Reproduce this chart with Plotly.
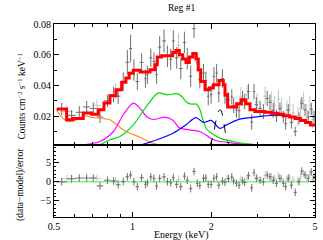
import math
import plotly.graph_objects as go

# ---------------- data ----------------
# model (step histogram): bin edges and values
model_edges = [0.512, 0.559, 0.590, 0.647, 0.697, 0.739, 0.777, 0.819, 0.864, 0.908, 0.943,
               0.971, 1.006, 1.068, 1.166, 1.219, 1.244, 1.293, 1.425, 1.467, 1.511, 1.556,
               1.602, 1.650, 1.700, 1.750, 1.786, 1.824, 1.895, 1.968, 2.039, 2.144, 2.227,
               2.260, 2.314, 2.506, 2.603, 2.713, 2.818, 2.945, 3.217, 3.4, 3.6, 3.8, 4.0,
               4.2, 4.4, 4.6, 4.8, 5.0]
model_vals = [0.0246, 0.0176, 0.0185, 0.0220, 0.0213, 0.0241, 0.0285, 0.0333, 0.0372, 0.0420,
              0.0448, 0.0480, 0.0498, 0.0487, 0.0502, 0.0535, 0.0585, 0.0593, 0.0615, 0.0628,
              0.0600, 0.0572, 0.0550, 0.0585, 0.0608, 0.0572, 0.0502, 0.0426, 0.0372, 0.0383,
              0.0404, 0.0432, 0.0404, 0.0339, 0.0259, 0.0280, 0.0306, 0.0280, 0.0241, 0.0230,
              0.0225, 0.0218, 0.0212, 0.0203, 0.0195, 0.0185, 0.0172, 0.0158, 0.0142]

# model components
orange_e = [0.512, 0.53, 0.567, 0.611, 0.658, 0.697, 0.772, 0.819, 0.871, 0.921, 0.977, 1.068, 1.166, 1.25, 1.37]
orange_v = [0.0241, 0.0200, 0.0165, 0.0176, 0.0202, 0.0191, 0.0185, 0.0176, 0.0143, 0.0111, 0.0089, 0.0062, 0.0030, 0.0015, 0.0007]
magenta_e = [0.647, 0.75, 0.845, 0.921, 1.006, 1.068, 1.13, 1.2, 1.31, 1.36, 1.43, 1.51, 1.65, 1.81, 1.95, 2.04, 2.16, 2.29, 2.57, 3.22]
magenta_v = [0.0013, 0.0035, 0.0100, 0.0209, 0.0285, 0.0252, 0.0198, 0.0178, 0.0192, 0.0190, 0.0172, 0.0125, 0.0111, 0.0100, 0.0067, 0.0046, 0.0035, 0.0030, 0.0020, 0.0012]
green_e = [0.75, 0.819, 0.895, 1.006, 1.13, 1.25, 1.36, 1.48, 1.55, 1.61, 1.68, 1.76, 1.81, 1.86, 1.92, 2.0, 2.16, 2.43, 2.91, 3.1]
green_v = [0.0013, 0.0046, 0.0067, 0.0143, 0.0263, 0.0350, 0.0339, 0.0346, 0.0325, 0.0290, 0.0278, 0.0278, 0.0245, 0.0175, 0.0118, 0.0090, 0.0057, 0.0035, 0.0014, 0.0010]
blue_e = [1.08, 1.24, 1.43, 1.6, 1.75, 1.87, 2.0, 2.16, 2.29, 2.57, 3.08, 3.56, 4.0, 4.5, 5.0]
blue_v = [0.0013, 0.0046, 0.0089, 0.0143, 0.0190, 0.0159, 0.0172, 0.0120, 0.0143, 0.0180, 0.0198, 0.0207, 0.0196, 0.0172, 0.0137]
line_e = [1.95, 2.0, 2.05, 2.1, 2.15, 2.18, 2.22, 2.26, 2.3, 2.35]
line_v = [0.0005, 0.0030, 0.0100, 0.0190, 0.0238, 0.0240, 0.0190, 0.0110, 0.0040, 0.0010]

# observed spectrum (dark)
obs_e = [0.535, 0.584, 0.625, 0.667, 0.707, 0.75, 0.801, 0.846, 0.881, 0.921, 0.955, 0.983,
         1.012, 1.043, 1.083, 1.12, 1.14, 1.175, 1.208, 1.236, 1.27, 1.32, 1.36, 1.40, 1.433,
         1.476, 1.53, 1.58, 1.62, 1.67, 1.72, 1.77, 1.81, 1.87, 1.91, 1.95, 2.0, 2.05, 2.1,
         2.14, 2.21, 2.26, 2.33, 2.40, 2.44, 2.50, 2.56, 2.64, 2.69, 2.78, 2.86, 2.92, 2.98,
         3.08, 3.17, 3.28, 3.36, 3.46, 3.56, 3.67, 3.78, 3.86, 3.95, 4.06, 4.20, 4.34, 4.45,
         4.58, 4.71, 4.84, 4.96]
obs_xerr = [0.023, 0.022, 0.02, 0.021, 0.02, 0.022, 0.024, 0.02, 0.018, 0.018, 0.016, 0.014,
            0.015, 0.016, 0.02, 0.012, 0.012, 0.016, 0.015, 0.015, 0.02, 0.022, 0.02, 0.018, 0.018,
            0.022, 0.025, 0.022, 0.022, 0.025, 0.025, 0.022, 0.025, 0.025, 0.022, 0.022, 0.025, 0.025, 0.022,
            0.03, 0.03, 0.03, 0.035, 0.025, 0.03, 0.03, 0.035, 0.03, 0.04, 0.04, 0.035, 0.03, 0.045,
            0.05, 0.05, 0.045, 0.05, 0.05, 0.05, 0.055, 0.05, 0.045, 0.05, 0.06, 0.06, 0.06, 0.06,
            0.065, 0.065, 0.065, 0.04]
obs_v = [0.0246, 0.0205, 0.0225, 0.0260, 0.0250, 0.0195, 0.0300, 0.0340, 0.0330, 0.0425, 0.0550, 0.0640,
         0.0500, 0.0425, 0.0550, 0.0445, 0.0470, 0.0580, 0.0555, 0.0470, 0.0650, 0.0690, 0.0590, 0.0570, 0.0690,
         0.0580, 0.0510, 0.0680, 0.0575, 0.0460, 0.0770, 0.0550, 0.0440, 0.0480, 0.0430, 0.0330, 0.0340, 0.0460, 0.0480,
         0.0350, 0.0445, 0.0330, 0.0305, 0.0325, 0.0270, 0.0240, 0.0235, 0.0316, 0.0296, 0.0360, 0.0161, 0.0360, 0.0275,
         0.0250, 0.0230, 0.0315, 0.0290, 0.0238, 0.0202, 0.0248, 0.0196, 0.0151, 0.0239, 0.0159, 0.0100, 0.0185, 0.0284,
         0.0240, 0.0194, 0.0246, 0.0194]
obs_err = [0.004, 0.0035, 0.004, 0.004, 0.004, 0.004, 0.004, 0.005, 0.005, 0.006, 0.008, 0.009,
           0.007, 0.0055, 0.006, 0.006, 0.006, 0.006, 0.006, 0.006, 0.007, 0.0075, 0.007, 0.007, 0.007,
           0.007, 0.007, 0.007, 0.007, 0.007, 0.006, 0.006, 0.006, 0.006, 0.006, 0.006, 0.006, 0.006, 0.006,
           0.006, 0.006, 0.005, 0.005, 0.005, 0.005, 0.005, 0.005, 0.005, 0.005, 0.005, 0.005, 0.005, 0.005,
           0.005, 0.005, 0.005, 0.005, 0.005, 0.004, 0.004, 0.004, 0.004, 0.004, 0.004, 0.003, 0.004, 0.004,
           0.004, 0.004, 0.004, 0.004]
obs_res = [0.0, 0.8, 1.0, 1.0, 1.0, -1.1, 0.4, 0.2, -0.8, 0.1, 1.3, 1.8,
           0.0, -1.3, 1.05, -0.7, -0.3, 1.3, 0.9, -1.1, 0.9, 1.3, 0.0, -0.3, 1.1,
           -0.7, -1.3, 1.5, 0.4, -1.8, 2.7, -0.4, -1.0, 0.9, 1.0, -0.7, -0.7, 0.9, 1.3,
           -0.9, 0.2, -0.2, 0.9, 1.3, 0.2, -0.4, -0.9, 0.2, -0.2, 1.6, -1.6, 2.4, 0.9,
           0.4, 0.0, 1.8, 1.3, 0.4, -0.4, 0.9, -0.4, -1.3, 0.9, -0.9, -2.8, 0.0, 2.8,
           1.8, 0.9, 2.6, 1.3]

# second spectrum (light)
obs2_e = [0.56, 0.73, 0.86, 1.5, 2.3, 2.6, 2.75, 3.0, 3.22, 3.4, 3.5, 3.62, 3.72, 3.9, 4.0, 4.12, 4.3, 4.4, 4.52, 4.65, 4.78, 4.9]
obs2_xerr = [0.03, 0.03, 0.025, 0.025, 0.04, 0.04, 0.04, 0.05, 0.05, 0.05, 0.05, 0.05, 0.05, 0.06, 0.05, 0.06, 0.06, 0.05, 0.06, 0.06, 0.06, 0.06]
obs2_v = [0.0230, 0.0270, 0.0360, 0.0660, 0.0310, 0.0330, 0.0340, 0.0290, 0.0330, 0.0300, 0.0270, 0.0310, 0.0260, 0.0240, 0.0270, 0.0220, 0.0200, 0.0250, 0.0300, 0.0220, 0.0270, 0.0180]
obs2_err = [0.004, 0.004, 0.005, 0.008, 0.006, 0.006, 0.006, 0.006, 0.006, 0.006, 0.006, 0.006, 0.006, 0.006, 0.006, 0.006, 0.006, 0.006, 0.006, 0.006, 0.006, 0.006]
obs2_res = [0.8, 0.9, 0.3, 0.6, 0.8, 0.6, 1.0, 1.0, 1.7, 1.3, 0.9, 1.5, 0.8, 0.6, 1.2, 0.5, 0.3, 1.3, 2.2, 0.9, 2.0, 0.8]

title_text = "Reg #1"
xtick_vals = [0.5, 1, 2, 5]
xtick_text = ["0.5", "1", "2", "5"]
xminor_vals = [0.6, 0.7, 0.8, 0.9, 3, 4]
ytop_vals = [0.02, 0.04, 0.06, 0.08]
ytop_text = ["0.02", "0.04", "0.06", "0.08"]
ytop_minor = [0.01, 0.03, 0.05, 0.07]
ybot_vals = [-5, 0, 5]
ybot_text = ["\u22125", "0", "5"]
ybot_minor = [-9, -8, -7, -6, -4, -3, -2, -1, 1, 2, 3, 4, 6, 7, 8, 9]

# ---------------- figure ----------------
FONT = "Liberation Serif"
DARK = "#6e6e6e"
LIGHT = "#c4c4c4"

fig = go.Figure()

def add_points(x, xe, y, ye, color, xa, ya):
    fig.add_trace(go.Scatter(
        x=x, y=y, mode="markers", xaxis=xa, yaxis=ya, showlegend=False,
        marker=dict(size=1, color=color),
        error_x=dict(type="data", array=xe, color=color, thickness=1, width=0),
        error_y=dict(type="data", array=ye, color=color, thickness=1, width=0),
    ))

# top panel data
add_points(obs2_e, obs2_xerr, obs2_v, obs2_err, LIGHT, "x", "y")
add_points(obs_e, obs_xerr, obs_v, obs_err, DARK, "x", "y")

# components
for ex, vy, col, dash in [(orange_e, orange_v, "#ff8c1a", "solid"),
                          (magenta_e, magenta_v, "#ff00ff", "solid"),
                          (green_e, green_v, "#00e000", "solid"),
                          (blue_e, blue_v, "#0000ff", "solid"),
                          (line_e, line_v, "#000000", "dash")]:
    fig.add_trace(go.Scatter(x=ex, y=vy, mode="lines", xaxis="x", yaxis="y", showlegend=False,
                             line=dict(color=col, width=1.2 if dash == "solid" else 1, dash=dash,
                                       shape="spline", smoothing=0.8)))

# model step
fig.add_trace(go.Scatter(x=model_edges, y=model_vals + [model_vals[-1]], mode="lines",
                         xaxis="x", yaxis="y", showlegend=False,
                         line=dict(color="#ff0000", width=3, shape="hv")))

# residual panel
fig.add_trace(go.Scatter(x=[0.5, 5], y=[0, 0], mode="lines", xaxis="x2", yaxis="y2", showlegend=False,
                         line=dict(color="#80f080", width=1.5)))
add_points(obs2_e, obs2_xerr, obs2_res, [1.0] * len(obs2_e), LIGHT, "x2", "y2")
add_points(obs_e, obs_xerr, obs_res, [1.0] * len(obs_e), DARK, "x2", "y2")

xr = [math.log10(0.5), math.log10(5.0005)]
split = 72 / 193

common_axis = dict(showline=True, linecolor="#000000", linewidth=1, mirror="allticks",
                   ticks="inside", ticklen=5, tickcolor="#000000", showgrid=False, zeroline=False,
                   automargin=False,
                   tickfont=dict(family=FONT, size=10, color="#000000"))

fig.update_layout(
    width=323, height=240,
    margin=dict(l=54, r=8, t=24, b=23, autoexpand=False),
    paper_bgcolor="white", plot_bgcolor="white",
    showlegend=False,
    xaxis=dict(type="log", range=xr, domain=[0, 1], anchor="y", tickvals=xtick_vals,
               ticktext=xtick_text, showticklabels=False,
               minor=dict(tickmode="array", tickvals=xminor_vals, ticks="inside", ticklen=3, tickcolor="#000000"),
               **common_axis),
    yaxis=dict(range=[0.0012, 0.08], domain=[split, 1], anchor="x", tickvals=ytop_vals, ticktext=ytop_text,
               minor=dict(tickmode="array", tickvals=ytop_minor, ticks="inside", ticklen=3, tickcolor="#000000"),
               **common_axis),
    xaxis2=dict(type="log", range=xr, domain=[0, 1], anchor="y2", tickvals=xtick_vals,
                ticktext=xtick_text, showticklabels=True,
                minor=dict(tickmode="array", tickvals=xminor_vals, ticks="inside", ticklen=3, tickcolor="#000000"),
                **common_axis),
    yaxis2=dict(range=[-9.3, 9.7], domain=[0, split], anchor="x2", tickvals=ybot_vals, ticktext=ybot_text,
                minor=dict(tickmode="array", tickvals=ybot_minor, ticks="inside", ticklen=2, tickcolor="#000000"),
                **common_axis),
    annotations=[
        dict(text=title_text, xref="paper", yref="paper", x=0.49, y=1 + 16 / 193, showarrow=False,
             xanchor="center", yanchor="middle", font=dict(family=FONT, size=9.5, color="#000000")),
        dict(text="Energy (keV)", xref="paper", yref="paper", x=0.49, y=-18 / 193, showarrow=False,
             xanchor="center", yanchor="middle", font=dict(family=FONT, size=10, color="#000000")),
        dict(text="Counts cm<sup>\u22122</sup> s<sup>\u22121</sup> keV<sup>\u22121</sup>", xref="paper", yref="paper",
             x=-33 / 261, y=(217 - 96.5) / 193, showarrow=False, textangle=-90,
             xanchor="center", yanchor="middle", font=dict(family=FONT, size=9.5, color="#000000")),
        dict(text="(data\u2212model)/error", xref="paper", yref="paper",
             x=-34 / 261, y=(217 - 185) / 193, showarrow=False, textangle=-90,
             xanchor="center", yanchor="middle", font=dict(family=FONT, size=9.5, color="#000000")),
    ],
)

fig.write_html("out.html", config={"displayModeBar": False},
               post_script="document.body.style.margin='0';document.body.style.padding='0';")
